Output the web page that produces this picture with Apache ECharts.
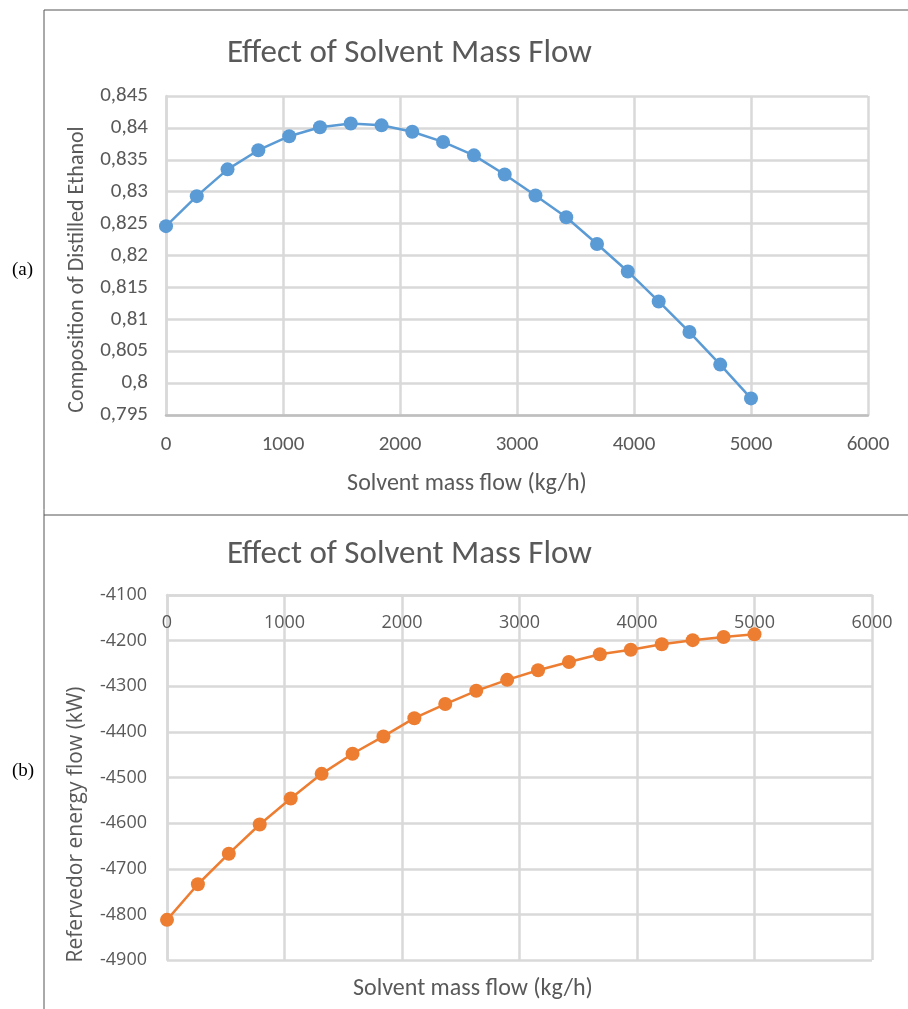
<!DOCTYPE html>
<html><head><meta charset="utf-8">
<script src="https://cdn.jsdelivr.net/npm/echarts@6/dist/echarts.min.js"></script>
<style>html,body{margin:0;padding:0;background:#fff}#c{width:908px;height:1009px}</style>
</head><body><div id="c"></div>
<script>
// Data
const solventFlow = [0, 263, 526, 789, 1053, 1316, 1579, 1842, 2105, 2368, 2632, 2895, 3158, 3421, 3684, 3947, 4211, 4474, 4737, 5000];
const ethanolComposition = [0.8246, 0.8293, 0.8335, 0.8365, 0.8387, 0.8401, 0.8407, 0.8404, 0.8394, 0.8378, 0.8357, 0.8327, 0.8294, 0.8260, 0.8218, 0.8175, 0.8128, 0.8080, 0.8029, 0.7976];
const reboilerEnergy = [-4812, -4734, -4667, -4603, -4546, -4492, -4448, -4410, -4370, -4339, -4310, -4286, -4265, -4247, -4230, -4220, -4208, -4199, -4192, -4186];
const chartTitle = 'Effect of Solvent Mass Flow';
const xName = 'Solvent mass flow (kg/h)';
const yNameA = 'Composition of Distilled Ethanol';
const yNameB = 'Refervedor energy flow (kW)';

const narrow = "Carlito, 'Liberation Sans Narrow', 'Open Sans', sans-serif";
const sans = "'Open Sans', 'DejaVu Sans', sans-serif";
const txt = '#595959';
const gridCol = '#d9d9d9';

const chart = echarts.init(document.getElementById('c'), null, {renderer: 'canvas'});
const option = {
  animation: false,
  backgroundColor: '#ffffff',
  title: [
    {text: chartTitle, left: 222, top: 32, textStyle: {fontFamily: narrow, fontSize: 33, fontWeight: 'normal', color: txt}},
    {text: chartTitle, left: 222, top: 533, textStyle: {fontFamily: narrow, fontSize: 33, fontWeight: 'normal', color: txt}},
    {text: xName, left: 348, top: 972, textStyle: {fontFamily: narrow, fontSize: 24, fontWeight: 'normal', color: txt}},
    {text: '(a)', left: 7, top: 256, textStyle: {fontFamily: "'Liberation Serif', serif", fontSize: 19, fontWeight: 'normal', color: '#000'}},
    {text: '(b)', left: 7, top: 757, textStyle: {fontFamily: "'Liberation Serif', serif", fontSize: 19, fontWeight: 'normal', color: '#000'}}
  ],
  graphic: [
    {type: 'line', shape: {x1: 44, y1: 10, x2: 44, y2: 1009}, style: {stroke: '#555', lineWidth: 1}},
    {type: 'line', shape: {x1: 44, y1: 10, x2: 908, y2: 10}, style: {stroke: '#555', lineWidth: 1}},
    {type: 'line', shape: {x1: 44, y1: 515, x2: 908, y2: 515}, style: {stroke: '#555', lineWidth: 1}}
  ],
  grid: [
    {left: 166, top: 96, width: 702, height: 319},
    {left: 167, top: 595, width: 705, height: 365}
  ],
  xAxis: [
    {gridIndex: 0, type: 'value', min: 0, max: 6000, interval: 1000,
     axisLine: {show: true, onZero: false, lineStyle: {color: '#bfbfbf', width: 2.5}},
     axisTick: {show: false},
     splitLine: {show: true, lineStyle: {color: gridCol, width: 2.5}},
     axisLabel: {color: txt, fontFamily: narrow, fontSize: 21, margin: 19, formatter: v => String(v)},
     name: xName, nameLocation: 'middle', nameGap: 57,
     nameTextStyle: {color: txt, fontFamily: narrow, fontSize: 24, padding: [0, 100, 0, 0]}},
    {gridIndex: 1, type: 'value', min: 0, max: 6000, interval: 1000, position: 'top',
     axisLine: {show: true, onZero: false, lineStyle: {color: gridCol, width: 2.5}},
     axisTick: {show: false},
     splitLine: {show: true, lineStyle: {color: gridCol, width: 2.5}},
     axisLabel: {inside: true, color: txt, fontFamily: sans, fontSize: 18, margin: 19, formatter: v => String(v)}}
  ],
  yAxis: [
    {gridIndex: 0, type: 'value', min: 0.795, max: 0.845, interval: 0.005,
     axisLine: {show: true, onZero: false, lineStyle: {color: gridCol, width: 2.5}},
     axisTick: {show: false},
     splitLine: {show: true, lineStyle: {color: gridCol, width: 2.5}},
     axisLabel: {color: txt, fontFamily: narrow, fontSize: 21, margin: 18,
       formatter: v => String(parseFloat(v.toFixed(3))).replace('.', ',')},
     name: yNameA, nameLocation: 'middle', nameGap: 78,
     nameTextStyle: {color: txt, fontFamily: narrow, fontSize: 22, padding: [0, 28, 0, 0]}},
    {gridIndex: 1, type: 'value', min: -4900, max: -4100, interval: 100,
     axisLine: {show: true, onZero: false, lineStyle: {color: gridCol, width: 2.5}},
     axisTick: {show: false},
     splitLine: {show: true, lineStyle: {color: gridCol, width: 2.5}},
     axisLabel: {color: txt, fontFamily: sans, fontSize: 18, margin: 20, formatter: v => String(v)},
     name: yNameB, nameLocation: 'middle', nameGap: 80,
     nameTextStyle: {color: txt, fontFamily: sans, fontSize: 21, padding: [0, 94, 0, 0]}}
  ],
  series: [
    {type: 'line', xAxisIndex: 0, yAxisIndex: 0,
     data: solventFlow.map((x, i) => [x, ethanolComposition[i]]),
     symbol: 'circle', symbolSize: 14, clip: false,
     lineStyle: {color: '#5B9BD5', width: 2.5}, itemStyle: {color: '#5B9BD5'}},
    {type: 'line', xAxisIndex: 1, yAxisIndex: 1,
     data: solventFlow.map((x, i) => [x, reboilerEnergy[i]]),
     symbol: 'circle', symbolSize: 14, clip: false,
     lineStyle: {color: '#ED7D31', width: 2.5}, itemStyle: {color: '#ED7D31'}}
  ]
};
chart.setOption(option);
</script></body></html>
